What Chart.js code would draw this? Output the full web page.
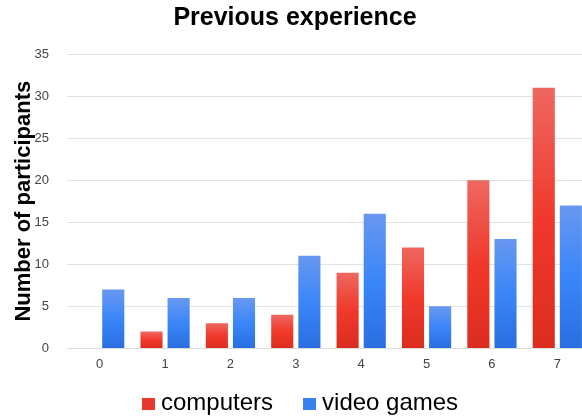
<!DOCTYPE html>
<html>
<head>
<meta charset="utf-8">
<script src="https://cdn.jsdelivr.net/npm/chart.js@4/dist/chart.umd.min.js"></script>
<style>
  html, body { margin: 0; padding: 0; background: #fff; overflow: hidden; }
  #wrap { width: 590px; height: 419px; }
</style>
</head>
<body>
<div id="wrap"><canvas id="c"></canvas></div>
<script>
// data
var labels = ['0', '1', '2', '3', '4', '5', '6', '7'];
var computers = [0, 2, 3, 4, 9, 12, 20, 31];
var videoGames = [7, 6, 6, 11, 16, 5, 13, 17];
var seriesNames = ['computers', 'video games'];
var legendColors = ['#e8392d', '#3a7fee'];

// gradient per bar, lighter at the top
function barFill(top, mid, end) {
    return function (ctx) {
        var chart = ctx.chart;
        if (!chart.chartArea || ctx.type !== 'data') return mid;
        var y = chart.scales.y;
        var yTop = y.getPixelForValue(ctx.raw);
        var yBase = y.getPixelForValue(0);
        if (!(yBase - yTop >= 1)) return mid;
        var g = chart.ctx.createLinearGradient(0, yTop, 0, yBase);
        g.addColorStop(0, top);
        g.addColorStop(0.5, mid);
        g.addColorStop(1, end);
        return g;
    };
}

// legend drawn by hand: box sits close to its text like in the original
var bottomLegend = {
    id: 'bottomLegend',
    afterDraw: function (chart) {
        var ctx = chart.ctx;
        ctx.save();
        ctx.font = '24px "Liberation Sans"';
        ctx.textBaseline = 'middle';
        ctx.textAlign = 'left';
        var x = 142, y = 403;
        seriesNames.forEach(function (name, i) {
            ctx.fillStyle = legendColors[i];
            ctx.fillRect(x, y - 5, 13, 12);
            ctx.fillStyle = '#000';
            ctx.fillText(name, x + 19, y);
            x += 19 + ctx.measureText(name).width + 30;
        });
        ctx.restore();
    }
};

new Chart(document.getElementById('c'), {
    type: 'bar',
    data: {
        labels: labels,
        datasets: [{
            label: seriesNames[0],
            data: computers,
            backgroundColor: barFill('#ee6860', '#f0392b', '#dc2c20'),
            borderWidth: 0
        }, {
            label: seriesNames[1],
            data: videoGames,
            backgroundColor: barFill('#6898f0', '#3a86f8', '#2a6ee0'),
            borderWidth: 0
        }]
    },
    plugins: [bottomLegend],
    options: {
        responsive: true,
        maintainAspectRatio: false,
        animation: false,
        categoryPercentage: 0.83,
        barPercentage: 0.815,
        layout: { padding: { left: 0, right: 0, top: 0, bottom: 39 } },
        plugins: {
            title: {
                display: true,
                text: 'Previous experience',
                color: '#000',
                font: { family: 'Liberation Sans', size: 25, weight: 'bold' },
                padding: { top: 3, bottom: 21 }
            },
            legend: { display: false },
            tooltip: { enabled: false }
        },
        scales: {
            x: {
                grid: { display: false, drawTicks: false },
                border: { color: '#ddd' },
                ticks: { color: '#444', font: { family: 'Liberation Sans', size: 13 }, padding: 8 }
            },
            y: {
                min: 0,
                max: 35,
                ticks: { stepSize: 5, color: '#444', font: { family: 'Liberation Sans', size: 13 }, padding: 18 },
                grid: { color: '#e2e2e2', drawTicks: false },
                border: { display: false },
                title: {
                    display: true,
                    text: 'Number of participants',
                    color: '#000',
                    font: { family: 'Liberation Sans', size: 22, weight: 'bold' },
                    padding: { top: 11, bottom: 0 }
                },
                afterFit: function (scale) { scale.width = 67; }
            }
        }
    }
});
</script>
</body>
</html>
